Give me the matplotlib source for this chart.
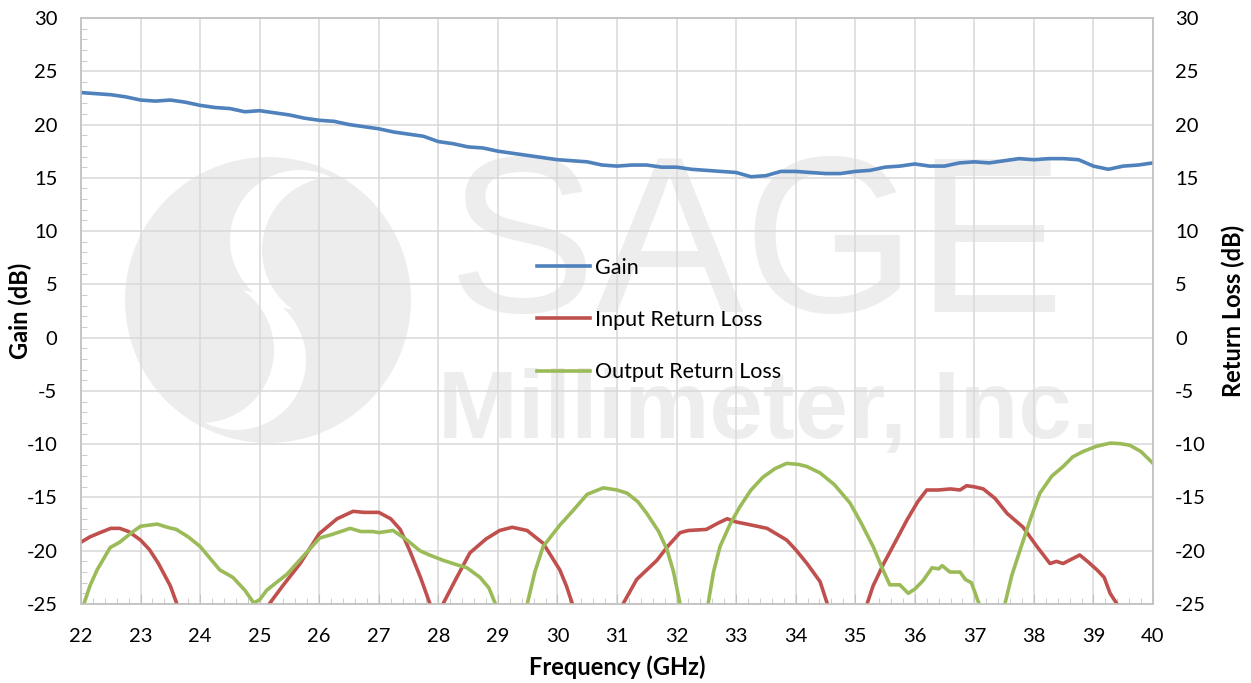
import numpy as np
import matplotlib
matplotlib.use("Agg")
import matplotlib.pyplot as plt
import matplotlib.transforms as mtransforms
from matplotlib.patches import Circle
from matplotlib.lines import Line2D

plt.rcParams['font.family'] = ['Lato', 'DejaVu Sans']
plt.rcParams['axes.unicode_minus'] = False

# ---- data ----
gain_freq = [22.0, 22.25, 22.5, 22.75, 23.0, 23.25, 23.5, 23.75, 24.0, 24.25, 24.5, 24.75,
             25.0, 25.25, 25.5, 25.75, 26.0, 26.25, 26.5, 26.75, 27.0, 27.25, 27.5, 27.75,
             28.0, 28.25, 28.5, 28.75, 29.0, 29.25, 29.5, 29.75, 30.0, 30.25, 30.5, 30.75,
             31.0, 31.25, 31.5, 31.75, 32.0, 32.25, 32.5, 32.75, 33.0, 33.25, 33.5, 33.75,
             34.0, 34.25, 34.5, 34.75, 35.0, 35.25, 35.5, 35.75, 36.0, 36.25, 36.5, 36.75,
             37.0, 37.25, 37.5, 37.75, 38.0, 38.25, 38.5, 38.75, 39.0, 39.25, 39.5, 39.75, 40.0]
gain_db = [23.0, 22.9, 22.8, 22.6, 22.3, 22.2, 22.3, 22.1, 21.8, 21.6, 21.5, 21.2,
           21.3, 21.1, 20.9, 20.6, 20.4, 20.3, 20.0, 19.8, 19.6, 19.3, 19.1, 18.9,
           18.4, 18.2, 17.9, 17.8, 17.5, 17.3, 17.1, 16.9, 16.7, 16.6, 16.5, 16.2,
           16.1, 16.2, 16.2, 16.0, 16.0, 15.8, 15.7, 15.6, 15.5, 15.1, 15.2, 15.6,
           15.6, 15.5, 15.4, 15.4, 15.6, 15.7, 16.0, 16.1, 16.3, 16.1, 16.1, 16.4,
           16.5, 16.4, 16.6, 16.8, 16.7, 16.8, 16.8, 16.7, 16.1, 15.8, 16.1, 16.2, 16.4]

# input return loss, segments separated by nan (curve leaves the -25 floor)
irl_freq = [22.0, 22.15, 22.32, 22.5, 22.65, 22.8, 23.0, 23.15, 23.3, 23.5, 23.63, np.nan,
            25.12, 25.4, 25.68, 26.0, 26.3, 26.57, 26.75, 27.0, 27.2, 27.36, 27.52, 27.7, 27.88, np.nan,
            28.05, 28.3, 28.53, 28.8, 29.03, 29.24, 29.49, 29.76, 30.04, 30.15, 30.27, np.nan,
            31.07, 31.33, 31.67, 31.85, 32.06, 32.2, 32.5, 32.7, 32.85, 33.0, 33.18, 33.52,
            33.85, 34.0, 34.19, 34.41, 34.55, np.nan,
            35.18, 35.3, 35.47, 35.67, 35.87, 36.05, 36.2, 36.4, 36.6, 36.76, 36.87, 37.0,
            37.15, 37.35, 37.55, 37.82, 38.05, 38.27, 38.38, 38.49, 38.77, 38.9, 39.06, 39.18,
            39.28, 39.43]
irl_db = [-19.2, -18.7, -18.3, -17.9, -17.9, -18.2, -19.0, -19.9, -21.2, -23.3, -25.3, np.nan,
          -25.3, -23.2, -21.2, -18.4, -17.0, -16.3, -16.4, -16.4, -17.0, -18.0, -20.0, -22.5, -25.3, np.nan,
          -25.3, -22.6, -20.2, -18.9, -18.1, -17.8, -18.1, -19.3, -21.8, -23.3, -25.3, np.nan,
          -25.3, -22.7, -20.9, -19.6, -18.3, -18.1, -18.0, -17.4, -17.0, -17.3, -17.5, -17.9,
          -19.0, -19.9, -21.2, -22.9, -25.3, np.nan,
          -25.3, -23.3, -21.3, -19.2, -17.1, -15.4, -14.3, -14.3, -14.2, -14.3, -13.9, -14.0,
          -14.2, -15.1, -16.5, -17.8, -19.6, -21.2, -21.0, -21.2, -20.4, -21.0, -21.8, -22.5,
          -24.0, -25.3]

# output return loss
orl_freq = [22.03, 22.15, 22.27, 22.49, 22.65, 22.85, 23.0, 23.28, 23.45, 23.6, 23.8, 24.0,
            24.15, 24.33, 24.55, 24.75, 24.9, 25.0, 25.12, 25.3, 25.46, 25.75, 26.01, 26.2,
            26.52, 26.7, 26.9, 27.0, 27.24, 27.45, 27.69, 27.85, 28.08, 28.3, 28.48, 28.7,
            28.85, 28.98, np.nan,
            29.48, 29.62, 29.76, 30.04, 30.25, 30.5, 30.77, 31.0, 31.17, 31.35, 31.5, 31.7,
            31.84, 31.95, 32.07, np.nan,
            32.52, 32.62, 32.73, 32.9, 33.06, 33.25, 33.45, 33.65, 33.85, 34.05, 34.19, 34.41,
            34.65, 34.91, 35.1, 35.3, 35.45, 35.58, 35.75, 35.89, 36.0, 36.14, 36.29, 36.4,
            36.46, 36.59, 36.76, 36.85, 36.95, 37.1, np.nan,
            37.5, 37.63, 37.77, 37.95, 38.1, 38.3, 38.49, 38.65, 38.82, 39.05, 39.28, 39.45,
            39.61, 39.8, 40.0]
orl_db = [-25.3, -23.3, -21.8, -19.7, -19.2, -18.3, -17.7, -17.5, -17.8, -18.0, -18.7, -19.6,
          -20.6, -21.8, -22.5, -23.7, -24.9, -24.6, -23.7, -22.9, -22.2, -20.4, -18.8, -18.5,
          -17.9, -18.2, -18.2, -18.3, -18.1, -18.9, -20.0, -20.4, -20.9, -21.3, -21.6, -22.5,
          -23.5, -25.3, np.nan,
          -25.3, -22.0, -19.6, -17.6, -16.3, -14.7, -14.1, -14.3, -14.6, -15.4, -16.5, -18.2,
          -19.9, -22.0, -25.3, np.nan,
          -25.3, -22.0, -19.6, -17.5, -15.9, -14.3, -13.1, -12.3, -11.8, -11.9, -12.1, -12.7,
          -13.8, -15.5, -17.4, -19.6, -21.6, -23.2, -23.2, -24.0, -23.6, -22.8, -21.6, -21.7,
          -21.4, -22.0, -22.0, -22.7, -23.0, -25.3, np.nan,
          -25.3, -22.3, -19.9, -16.9, -14.6, -13.0, -12.1, -11.2, -10.7, -10.2, -9.9, -9.95,
          -10.1, -10.7, -11.8]

series_names = ['Gain', 'Input Return Loss', 'Output Return Loss']
series_colors = ['#4F81BD', '#C0504D', '#9BBB59']

W, H = 1251, 683
fig = plt.figure(figsize=(W / 100, H / 100), dpi=100)
ax1 = fig.add_axes([81 / W, 1 - 604 / H, (1153 - 81) / W, (604 - 18) / H])
ax2 = ax1.twinx()

# figure-pixel transform (y measured from top) for the watermark
pix = mtransforms.Affine2D().scale(1, -1).translate(0, H)

wm = '#ededed'
logo = Circle((268, 300), 143, transform=pix, fc=wm, ec='none', zorder=0.1)
ax1.add_patch(logo)
# S shaped white band of the logo: two crescents, point symmetric about the centre
for sgn in (1, -1):
    white = Circle((268 + sgn * 32, 300 - sgn * 60), 70, transform=pix,
                   fc='white', ec='none', zorder=0.15)
    lobe = Circle((268 + sgn * 67, 300 - sgn * 50), 73, transform=pix,
                  fc=wm, ec='none', zorder=0.2)
    for p in (white, lobe):
        ax1.add_patch(p)
        p.set_clip_path(logo)
ax1.text(448, 312, 'SAGE', transform=pix, fontsize=160, color=wm,
         family='Liberation Sans', ha='left', va='baseline', zorder=0.3)
ax1.text(438, 438, 'Millimeter, Inc.', transform=pix, fontsize=69, color=wm,
         family='Liberation Sans', fontweight='bold', ha='left', va='baseline', zorder=0.3)

# ---- curves ----
ax1.plot(gain_freq, gain_db, color=series_colors[0], lw=2.6, zorder=3)
ax2.plot(irl_freq, irl_db, color=series_colors[1], lw=2.6)
ax2.plot(orl_freq, orl_db, color=series_colors[2], lw=2.6)

grid_c = '#d9d9d9'
spine_c = '#c4c4c4'
for ax in (ax1, ax2):
    ax.set_xlim(22, 40)
    ax.set_ylim(-25, 30)
    ax.set_yticks(np.arange(-25, 31, 5))
    for s in ax.spines.values():
        s.set_color(spine_c)
        s.set_linewidth(1.1)

ax1.set_axisbelow(True)
ax1.set_xticks(np.arange(22, 41, 1))
ax1.set_xticks(np.arange(22, 40.01, 0.2), minor=True)
ax1.set_yticks(np.arange(-25, 31, 1), minor=True)
ax1.grid(True, which='major', color=grid_c, lw=1.1)
ax1.tick_params(axis='x', which='major', direction='in', length=7, color=spine_c,
                labelsize=14.5, pad=17)
ax1.tick_params(axis='x', which='minor', direction='in', length=4.5, color=spine_c)
ax1.tick_params(axis='y', which='major', length=0, labelsize=14.5, pad=17)
ax1.tick_params(axis='y', which='minor', direction='in', length=4.5, color=spine_c)
ax2.tick_params(axis='y', which='major', length=0, labelsize=14.5, pad=16)

ax1.set_xlabel('Frequency (GHz)', fontsize=17, fontweight='bold', labelpad=8)
ax1.set_ylabel('Gain (dB)', fontsize=17, fontweight='bold')
ax2.set_ylabel('Return Loss (dB)', fontsize=17, fontweight='bold')
ax1.yaxis.set_label_coords((32 - 81) / 1072, 0.5)
ax2.yaxis.set_label_coords((1222 - 81) / 1072, 0.5)

handles = [Line2D([], [], color=c, lw=2.6) for c in series_colors]
leg = ax2.legend(handles, series_names, loc='center left', frameon=False,
                 bbox_to_anchor=(537 / W, 1 - 320 / H), bbox_transform=fig.transFigure,
                 fontsize=15.5, handlelength=2.45, handletextpad=0.25, labelspacing=1.5,
                 borderpad=0, borderaxespad=0)

fig.savefig('out.png', dpi=100, facecolor='white')
